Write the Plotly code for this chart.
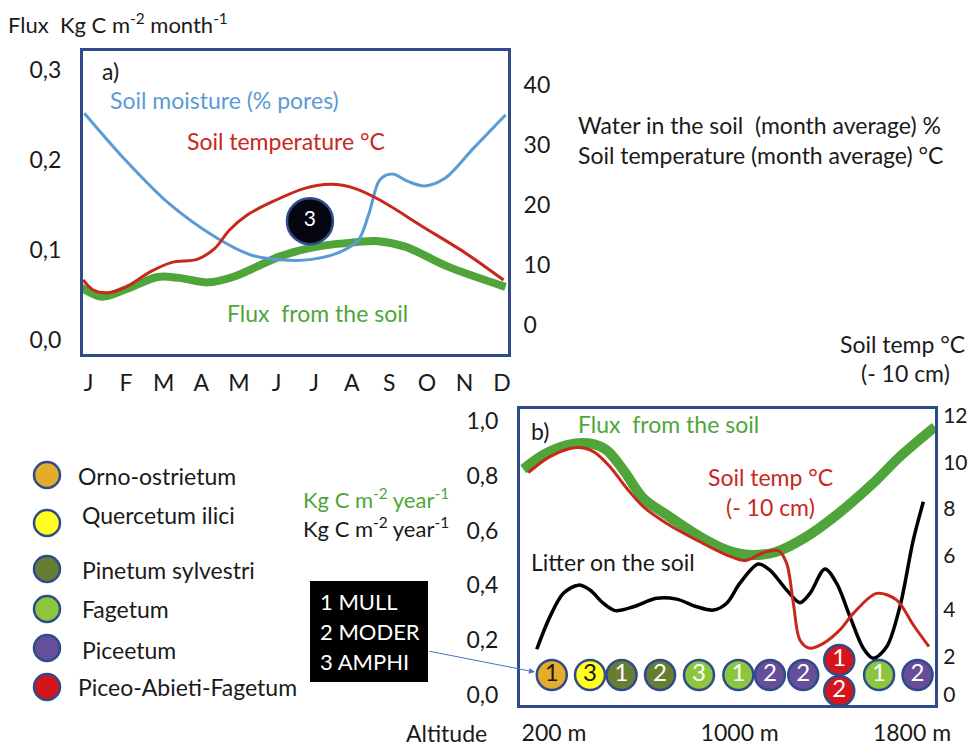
import plotly.graph_objects as go

W, H = 968, 743
FONT = "Lato"
NAVY = "#2F4B8A"
BLUE = "#5B9BD5"
RED = "#C8281C"
GREEN = "#4FA53A"
INK = "#1A1A1A"

# ---------- panel a ----------
months = ["J", "F", "M", "A", "M", "J", "J", "A", "S", "O", "N", "D"]
flux_a_x = [-0.22, 0.36, 0.98, 1.84, 2.41, 3.18, 3.84, 5.08, 5.94, 7.18, 7.65, 8.42, 9.56, 11.09]
flux_a_y = [.059, .048, .056, .070, .069, .064, .070, .0926, .1026, .109, .110, .1037, .0815, .059]
moist_x = [-0.11, .98, 2.13, 3.36, 4.32, 5.18, 5.94, 6.70, 7.18, 7.46, 7.75, 8.08, 8.51, 8.94, 9.47, 10.23, 11.09]
moist_y = [35.3, 27.5, 20.3, 14.7, 11.67, 10.83, 10.94, 12.2, 14.17, 18.6, 24.2, 25.17, 23.9, 23.17, 24.4, 29.4, 35.0]
temp_a_x = [-.14, .125, .505, .98, 1.65, 2.22, 2.89, 3.36, 3.75, 4.22, 4.89, 5.75, 6.46, 7.08, 7.75, 8.89, 10.04, 11.04]
temp_a_y = [7.5, 5.83, 5.39, 6.28, 8.89, 10.44, 10.94, 12.78, 15.83, 18.33, 20.55, 22.78, 23.45, 22.78, 20.83, 16.39, 11.94, 7.5]
flux_a_ticks = [0.0, 0.1, 0.2, 0.3]
flux_a_labels = ["0,0", "0,1", "0,2", "0,3"]
right_a_ticks = [0, 10, 20, 30, 40]

# ---------- panel b ----------
flux_b_x = [63, 152, 257, 353, 435, 510, 599, 704, 852, 972, 1076, 1195, 1329, 1463, 1627, 1746, 1903]
flux_b_y = [.824, .876, .912, .9185, .894, .821, .718, .657, .578, .529, .511, .523, .578, .657, .773, .870, .979]
temp_b_x = [85, 182, 301, 376, 450, 525, 599, 704, 852, 972, 1054, 1136, 1203, 1240, 1270, 1299, 1344, 1404, 1478, 1538, 1642, 1731, 1806, 1876]
temp_b_y = [9.56, 10.25, 10.64, 10.47, 9.82, 8.89, 8.10, 7.38, 6.59, 6.02, 5.78, 6.12, 6.21, 5.66, 3.94, 2.37, 2.01, 2.22, 2.80, 3.51, 4.37, 4.09, 3.01, 2.08]
litter_x = [123, 182, 242, 309, 361, 420, 473, 555, 659, 748, 838, 912, 972, 1031, 1113, 1165, 1240, 1299, 1344, 1411, 1463, 1523, 1583, 1627, 1687, 1746, 1806, 1851]
litter_y = [.167, .286, .371, .401, .383, .335, .308, .322, .353, .350, .322, .310, .335, .408, .478, .456, .383, .337, .371, .460, .408, .286, .170, .134, .176, .322, .566, .705]
site_alt = [190, 361, 502, 674, 848, 1024, 1165, 1314, 1475, 1475, 1653, 1825]
site_val = [.073, .073, .073, .073, .073, .073, .073, .073, .128, .015, .073, .073]
site_humus = ["1", "3", "1", "2", "3", "1", "2", "2", "1", "2", "1", "2"]
ORNO, QUER, PINE, FAGE, PICE, PAF = "#E3AC2A", "#FFFF22", "#667D33", "#8CC63F", "#664E9B", "#D5141E"
site_color = [ORNO, QUER, PINE, PINE, FAGE, FAGE, PICE, PICE, PAF, PAF, FAGE, PICE]
site_text = [INK, INK] + ["white"] * 10
alt_ticks = [200, 1030, 1800]
alt_labels = ["200 m", "1000 m", "1800 m"]
flux_b_ticks = [0, .2, .4, .6, .8, 1.0]
flux_b_labels = ["0,0", "0,2", "0,4", "0,6", "0,8", "1,0"]
right_b_ticks = [0, 1.66, 3.66, 6, 8, 10, 12]
right_b_labels = ["0", "2", "4", "6", "8", "10", "12"]

legend_names = ["Orno-ostrietum", "Quercetum ilici", "Pinetum sylvestri", "Fagetum", "Piceetum", "Piceo-Abieti-Fagetum"]
legend_colors = [ORNO, QUER, PINE, FAGE, PICE, PAF]
humus_names = ["1 MULL", "2 MODER", "3 AMPHI"]

def X(p): return p / W
def Y(p): return 1 - p / H

fig = go.Figure()
sp = dict(mode="lines", line_shape="spline", cliponaxis=False, hoverinfo="skip", showlegend=False)
fig.add_trace(go.Scatter(x=moist_x, y=moist_y, xaxis="x", yaxis="y2", line=dict(color=BLUE, width=3, smoothing=0.9), **sp))
fig.add_trace(go.Scatter(x=flux_a_x, y=flux_a_y, xaxis="x", yaxis="y", line=dict(color=GREEN, width=8, smoothing=0.9), **sp))
fig.add_trace(go.Scatter(x=temp_a_x, y=temp_a_y, xaxis="x", yaxis="y2", line=dict(color=RED, width=3, smoothing=0.9), **sp))
fig.add_trace(go.Scatter(x=[5.89], y=[.132], xaxis="x", yaxis="y", mode="markers+text", text=["3"],
                         textposition="middle center", textfont=dict(color="white", size=21, family=FONT),
                         marker=dict(size=46, color="#050510", line=dict(color=NAVY, width=2.5)),
                         hoverinfo="skip", showlegend=False, cliponaxis=False))

fig.add_trace(go.Scatter(x=litter_x, y=litter_y, xaxis="x3", yaxis="y3", line=dict(color="black", width=3.5, smoothing=0.9), **sp))
fig.add_trace(go.Scatter(x=flux_b_x, y=flux_b_y, xaxis="x3", yaxis="y3", line=dict(color=GREEN, width=10, smoothing=0.9), **sp))
fig.add_trace(go.Scatter(x=temp_b_x, y=temp_b_y, xaxis="x3", yaxis="y4", line=dict(color=RED, width=3, smoothing=0.9), **sp))
fig.add_trace(go.Scatter(x=site_alt, y=site_val, xaxis="x3", yaxis="y3", mode="markers+text", text=site_humus,
                         textposition="middle center", textfont=dict(color=site_text, size=24, family=FONT),
                         marker=dict(size=30, color=site_color, line=dict(color=NAVY, width=2.5)),
                         hoverinfo="skip", showlegend=False, cliponaxis=False))

TS = 23
tf = dict(family=FONT, size=TS, color=INK)
hide = dict(tickcolor="rgba(0,0,0,0)", ticks="outside", tickwidth=1, zeroline=False, showgrid=False, automargin=False)
frame = dict(showline=True, linecolor=NAVY, linewidth=3, mirror=True)

fig.update_layout(
    width=W, height=H, margin=dict(l=0, r=0, t=0, b=0, autoexpand=False), paper_bgcolor="white", plot_bgcolor="white",
    font=dict(family=FONT, color=INK), showlegend=False,
    xaxis=dict(domain=[X(83), X(508)], range=[-0.146, 11.157], tickmode="array",
               tickvals=list(range(12)), ticktext=months, ticklen=6, tickfont=tf, anchor="y", **hide, **frame),
    yaxis=dict(domain=[Y(354), Y(51)], range=[-0.0156, 0.3211], tickmode="array", tickvals=flux_a_ticks,
               ticktext=flux_a_labels, ticklen=14, tickfont=tf, anchor="x", **hide, **frame),
    yaxis2=dict(domain=[Y(354), Y(51)], range=[-4.83, 45.67], tickmode="array", tickvals=right_a_ticks,
                ticktext=[str(v) for v in right_a_ticks], ticklen=10, tickfont=tf, overlaying="y", side="right",
                anchor="x", **hide),
    xaxis3=dict(domain=[X(520), X(935)], range=[48, 1903], tickmode="array", tickvals=alt_ticks,
                ticktext=alt_labels, ticklen=5, tickfont=tf, anchor="y3", **hide, **frame),
    yaxis3=dict(domain=[Y(705), Y(409)], range=[-0.0365, 1.0438], tickmode="array", tickvals=flux_b_ticks,
                ticktext=flux_b_labels, ticklen=14, tickfont=tf, anchor="x3", **hide, **frame),
    yaxis4=dict(domain=[Y(705), Y(409)], range=[-0.43, 12.3], tickmode="array", tickvals=right_b_ticks,
                ticktext=right_b_labels, ticklen=3, tickfont=dict(family=FONT, size=21, color=INK), overlaying="y3",
                side="right", anchor="x3", **hide),
)

def note(x, y, text, color=INK, size=TS, anchor="left"):
    fig.add_annotation(x=X(x), y=Y(y), xref="paper", yref="paper", text=text, showarrow=False,
                       xanchor=anchor, yanchor="middle", font=dict(family=FONT, size=size, color=color))

note(6, 24, "Flux  Kg C m<sup>-2</sup> month<sup>-1</sup>", size=22)
note(100, 71, "a)")
note(108, 100, "Soil moisture (% pores)", BLUE)
note(185, 141, "Soil temperature °C", RED)
note(225, 313, "Flux  from the soil", GREEN)
note(576, 125, "Water in the soil  (month average) %")
note(576, 155, "Soil temperature (month average) °C")
note(967, 344, "Soil temp °C", anchor="right")
note(905, 373, "(- 10 cm)", anchor="center")
note(529, 431, "b)")
note(576, 424, "Flux  from the soil", GREEN)
note(770, 477, "Soil temp °C", RED, anchor="center")
note(770, 507, "(- 10 cm)", RED, anchor="center")
note(529, 562, "Litter on the soil")
note(301, 498, "Kg C m<sup>-2</sup> year<sup>-1</sup>", GREEN, size=22)
note(301, 527, "Kg C m<sup>-2</sup> year<sup>-1</sup>", size=22)
note(404, 733, "Altitude")

legend_y = [475, 523, 569, 609, 648, 687]
legend_text_x = [76, 80, 80, 80, 80, 76]
legend_text_y = [476, 515, 570, 609, 650, 687]
for name, col, cy, tx, ty in zip(legend_names, legend_colors, legend_y, legend_text_x, legend_text_y):
    fig.add_shape(type="circle", xref="paper", yref="paper", x0=X(34), x1=X(60), y0=Y(cy + 13), y1=Y(cy - 13),
                  fillcolor=col, line=dict(color=NAVY, width=2.5))
    note(tx, ty, name)

fig.add_shape(type="rect", xref="paper", yref="paper", x0=X(310), x1=X(428), y0=Y(682), y1=Y(581),
              fillcolor="black", line=dict(width=0))
for name, ty in zip(humus_names, [601, 631, 661]):
    note(318, ty, name, "white", size=22)

fig.add_annotation(x=X(535), y=Y(672), ax=-107, ay=-21, xref="paper", yref="paper", axref="pixel", ayref="pixel",
                   showarrow=True, arrowhead=2, arrowsize=1.2, arrowwidth=1, arrowcolor="#4472C4", text="")

fig.write_html("out.html", config={"displayModeBar": False}, post_script="document.body.style.margin='0';")
